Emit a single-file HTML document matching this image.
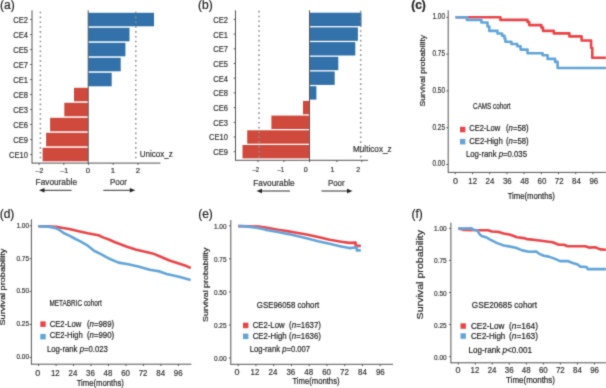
<!DOCTYPE html>
<html><head><meta charset="utf-8"><style>
html,body{margin:0;padding:0;background:#fff;width:606px;height:388px;overflow:hidden}
svg{display:block;font-family:"Liberation Sans", sans-serif}
</style></head><body>
<svg width="606" height="388" viewBox="0 0 606 388">
<defs><filter id="bl" x="0" y="0" width="606" height="388" filterUnits="userSpaceOnUse"><feConvolveMatrix order="3" kernelMatrix="0.0225 0.1050 0.0225 0.1050 0.4900 0.1050 0.0225 0.1050 0.0225" divisor="1" edgeMode="none" preserveAlpha="false"/></filter></defs>
<rect width="606" height="388" fill="#fff"/>
<g filter="url(#bl)">
<text x="0" y="8.9" font-size="12" text-anchor="start" fill="#222" stroke="#222" stroke-width="0.2">(a)</text>
<rect x="88.2" y="12.8" width="65.8" height="13.5" fill="#3171a9"/>
<text x="28" y="22.95" font-size="8.4" text-anchor="end" fill="#333333" stroke="#333333" stroke-width="0.2" textLength="14.71" lengthAdjust="spacingAndGlyphs">CE2</text>
<line x1="30.2" y1="19.55" x2="32.0" y2="19.55" stroke="#555555" stroke-width="1"/>
<rect x="88.2" y="27.8" width="41.3" height="13.5" fill="#3171a9"/>
<text x="28" y="37.949999999999996" font-size="8.4" text-anchor="end" fill="#333333" stroke="#333333" stroke-width="0.2" textLength="14.71" lengthAdjust="spacingAndGlyphs">CE4</text>
<line x1="30.2" y1="34.55" x2="32.0" y2="34.55" stroke="#555555" stroke-width="1"/>
<rect x="88.2" y="42.8" width="37.2" height="13.5" fill="#3171a9"/>
<text x="28" y="52.949999999999996" font-size="8.4" text-anchor="end" fill="#333333" stroke="#333333" stroke-width="0.2" textLength="14.71" lengthAdjust="spacingAndGlyphs">CE5</text>
<line x1="30.2" y1="49.55" x2="32.0" y2="49.55" stroke="#555555" stroke-width="1"/>
<rect x="88.2" y="57.8" width="32.5" height="13.5" fill="#3171a9"/>
<text x="28" y="67.95" font-size="8.4" text-anchor="end" fill="#333333" stroke="#333333" stroke-width="0.2" textLength="14.71" lengthAdjust="spacingAndGlyphs">CE7</text>
<line x1="30.2" y1="64.55" x2="32.0" y2="64.55" stroke="#555555" stroke-width="1"/>
<rect x="88.2" y="72.8" width="23.5" height="13.5" fill="#3171a9"/>
<text x="28" y="82.95" font-size="8.4" text-anchor="end" fill="#333333" stroke="#333333" stroke-width="0.2" textLength="14.71" lengthAdjust="spacingAndGlyphs">CE1</text>
<line x1="30.2" y1="79.55" x2="32.0" y2="79.55" stroke="#555555" stroke-width="1"/>
<rect x="74" y="87.8" width="14.200000000000003" height="13.5" fill="#cf4a3e"/>
<text x="28" y="97.95" font-size="8.4" text-anchor="end" fill="#333333" stroke="#333333" stroke-width="0.2" textLength="14.71" lengthAdjust="spacingAndGlyphs">CE8</text>
<line x1="30.2" y1="94.55" x2="32.0" y2="94.55" stroke="#555555" stroke-width="1"/>
<rect x="64.3" y="102.8" width="23.900000000000006" height="13.5" fill="#cf4a3e"/>
<text x="28" y="112.95" font-size="8.4" text-anchor="end" fill="#333333" stroke="#333333" stroke-width="0.2" textLength="14.71" lengthAdjust="spacingAndGlyphs">CE3</text>
<line x1="30.2" y1="109.55" x2="32.0" y2="109.55" stroke="#555555" stroke-width="1"/>
<rect x="50.1" y="117.8" width="38.1" height="13.5" fill="#cf4a3e"/>
<text x="28" y="127.95" font-size="8.4" text-anchor="end" fill="#333333" stroke="#333333" stroke-width="0.2" textLength="14.71" lengthAdjust="spacingAndGlyphs">CE6</text>
<line x1="30.2" y1="124.55" x2="32.0" y2="124.55" stroke="#555555" stroke-width="1"/>
<rect x="46.1" y="132.8" width="42.1" height="13.5" fill="#cf4a3e"/>
<text x="28" y="142.95000000000002" font-size="8.4" text-anchor="end" fill="#333333" stroke="#333333" stroke-width="0.2" textLength="14.71" lengthAdjust="spacingAndGlyphs">CE9</text>
<line x1="30.2" y1="139.55" x2="32.0" y2="139.55" stroke="#555555" stroke-width="1"/>
<rect x="42.6" y="147.8" width="45.6" height="13.5" fill="#cf4a3e"/>
<text x="28" y="157.95000000000002" font-size="8.4" text-anchor="end" fill="#333333" stroke="#333333" stroke-width="0.2" textLength="18.91" lengthAdjust="spacingAndGlyphs">CE10</text>
<line x1="30.2" y1="154.55" x2="32.0" y2="154.55" stroke="#555555" stroke-width="1"/>
<line x1="40.4" y1="11.75" x2="40.4" y2="161.6" stroke="#8a8a8a" stroke-width="1.5" stroke-dasharray="1.6 3.233"/>
<line x1="135.8" y1="11.75" x2="135.8" y2="161.6" stroke="#8a8a8a" stroke-width="1.5" stroke-dasharray="1.6 3.233"/>
<line x1="88.2" y1="10.3" x2="88.2" y2="163.1" stroke="#555555" stroke-width="1"/>
<line x1="32.0" y1="10.3" x2="32.0" y2="163.6" stroke="#555555" stroke-width="1.0"/>
<line x1="32.0" y1="163.1" x2="160.4" y2="163.1" stroke="#555555" stroke-width="1.0"/>
<line x1="39.06" y1="163.1" x2="39.06" y2="164.9" stroke="#555555" stroke-width="1"/>
<text x="39.4" y="173.2" font-size="7.8" text-anchor="middle" fill="#333333" stroke="#333333" stroke-width="0.2" textLength="7.7" lengthAdjust="spacingAndGlyphs">–2</text>
<line x1="63.8" y1="163.1" x2="63.8" y2="164.9" stroke="#555555" stroke-width="1"/>
<text x="64.2" y="173.2" font-size="7.8" text-anchor="middle" fill="#333333" stroke="#333333" stroke-width="0.2" textLength="7.7" lengthAdjust="spacingAndGlyphs">–1</text>
<line x1="88.4" y1="163.1" x2="88.4" y2="164.9" stroke="#555555" stroke-width="1"/>
<text x="88.0" y="173.2" font-size="7.8" text-anchor="middle" fill="#333333" stroke="#333333" stroke-width="0.2">0</text>
<line x1="113.2" y1="163.1" x2="113.2" y2="164.9" stroke="#555555" stroke-width="1"/>
<text x="113.0" y="173.2" font-size="7.8" text-anchor="middle" fill="#333333" stroke="#333333" stroke-width="0.2">1</text>
<line x1="138" y1="163.1" x2="138" y2="164.9" stroke="#555555" stroke-width="1"/>
<text x="138.0" y="173.2" font-size="7.8" text-anchor="middle" fill="#333333" stroke="#333333" stroke-width="0.2">2</text>
<text x="56.3" y="185" font-size="8.2" text-anchor="middle" fill="#333333" stroke="#333333" stroke-width="0.2" textLength="41.4" lengthAdjust="spacingAndGlyphs">Favourable</text>
<text x="118.5" y="185" font-size="8.2" text-anchor="middle" fill="#333333" stroke="#333333" stroke-width="0.2" textLength="17" lengthAdjust="spacingAndGlyphs">Poor</text>
<line x1="43" y1="190.3" x2="71.6" y2="190.3" stroke="#333" stroke-width="1"/>
<path d="M39,190.3 L44.5,188.0 L44.5,192.60000000000002 Z" fill="#222"/>
<line x1="103.3" y1="190.3" x2="131.3" y2="190.3" stroke="#333" stroke-width="1"/>
<path d="M135.3,190.3 L129.8,188.0 L129.8,192.60000000000002 Z" fill="#222"/>
<text x="139.8" y="157" font-size="8.6" text-anchor="start" fill="#333333" stroke="#333333" stroke-width="0.2" textLength="33" lengthAdjust="spacingAndGlyphs">Unicox_z</text>
<text x="198" y="8.9" font-size="12" text-anchor="start" fill="#222" stroke="#222" stroke-width="0.2">(b)</text>
<rect x="309.5" y="12.7" width="52.0" height="13.4" fill="#3171a9"/>
<text x="228" y="22.799999999999997" font-size="8.4" text-anchor="end" fill="#333333" stroke="#333333" stroke-width="0.2" textLength="14.71" lengthAdjust="spacingAndGlyphs">CE2</text>
<line x1="233.7" y1="19.4" x2="235.5" y2="19.4" stroke="#555555" stroke-width="1"/>
<rect x="309.5" y="27.4" width="48.39999999999998" height="13.4" fill="#3171a9"/>
<text x="228" y="37.5" font-size="8.4" text-anchor="end" fill="#333333" stroke="#333333" stroke-width="0.2" textLength="14.71" lengthAdjust="spacingAndGlyphs">CE1</text>
<line x1="233.7" y1="34.1" x2="235.5" y2="34.1" stroke="#555555" stroke-width="1"/>
<rect x="309.5" y="42.099999999999994" width="45.80000000000001" height="13.4" fill="#3171a9"/>
<text x="228" y="52.199999999999996" font-size="8.4" text-anchor="end" fill="#333333" stroke="#333333" stroke-width="0.2" textLength="14.71" lengthAdjust="spacingAndGlyphs">CE7</text>
<line x1="233.7" y1="48.8" x2="235.5" y2="48.8" stroke="#555555" stroke-width="1"/>
<rect x="309.5" y="56.8" width="28.80000000000001" height="13.4" fill="#3171a9"/>
<text x="228" y="66.9" font-size="8.4" text-anchor="end" fill="#333333" stroke="#333333" stroke-width="0.2" textLength="14.71" lengthAdjust="spacingAndGlyphs">CE5</text>
<line x1="233.7" y1="63.5" x2="235.5" y2="63.5" stroke="#555555" stroke-width="1"/>
<rect x="309.5" y="71.5" width="25.19999999999999" height="13.4" fill="#3171a9"/>
<text x="228" y="81.60000000000001" font-size="8.4" text-anchor="end" fill="#333333" stroke="#333333" stroke-width="0.2" textLength="14.71" lengthAdjust="spacingAndGlyphs">CE4</text>
<line x1="233.7" y1="78.2" x2="235.5" y2="78.2" stroke="#555555" stroke-width="1"/>
<rect x="309.5" y="86.2" width="6.899999999999977" height="13.4" fill="#3171a9"/>
<text x="228" y="96.30000000000001" font-size="8.4" text-anchor="end" fill="#333333" stroke="#333333" stroke-width="0.2" textLength="14.71" lengthAdjust="spacingAndGlyphs">CE8</text>
<line x1="233.7" y1="92.9" x2="235.5" y2="92.9" stroke="#555555" stroke-width="1"/>
<rect x="303" y="100.89999999999999" width="6.5" height="13.4" fill="#cf4a3e"/>
<text x="228" y="111.0" font-size="8.4" text-anchor="end" fill="#333333" stroke="#333333" stroke-width="0.2" textLength="14.71" lengthAdjust="spacingAndGlyphs">CE6</text>
<line x1="233.7" y1="107.6" x2="235.5" y2="107.6" stroke="#555555" stroke-width="1"/>
<rect x="271.4" y="115.6" width="38.10000000000002" height="13.4" fill="#cf4a3e"/>
<text x="228" y="125.7" font-size="8.4" text-anchor="end" fill="#333333" stroke="#333333" stroke-width="0.2" textLength="14.71" lengthAdjust="spacingAndGlyphs">CE3</text>
<line x1="233.7" y1="122.3" x2="235.5" y2="122.3" stroke="#555555" stroke-width="1"/>
<rect x="247.2" y="130.29999999999998" width="62.30000000000001" height="13.4" fill="#cf4a3e"/>
<text x="228" y="140.39999999999998" font-size="8.4" text-anchor="end" fill="#333333" stroke="#333333" stroke-width="0.2" textLength="18.91" lengthAdjust="spacingAndGlyphs">CE10</text>
<line x1="233.7" y1="136.99999999999997" x2="235.5" y2="136.99999999999997" stroke="#555555" stroke-width="1"/>
<rect x="242.5" y="144.99999999999997" width="67.0" height="13.4" fill="#cf4a3e"/>
<text x="228" y="155.09999999999997" font-size="8.4" text-anchor="end" fill="#333333" stroke="#333333" stroke-width="0.2" textLength="14.71" lengthAdjust="spacingAndGlyphs">CE9</text>
<line x1="233.7" y1="151.69999999999996" x2="235.5" y2="151.69999999999996" stroke="#555555" stroke-width="1"/>
<line x1="259.0" y1="10.799999999999999" x2="259.0" y2="158.8" stroke="#8a8a8a" stroke-width="1.5" stroke-dasharray="1.6 3.233"/>
<line x1="360.7" y1="10.799999999999999" x2="360.7" y2="158.8" stroke="#8a8a8a" stroke-width="1.5" stroke-dasharray="1.6 3.233"/>
<line x1="309.5" y1="10.3" x2="309.5" y2="160.3" stroke="#555555" stroke-width="1"/>
<line x1="235.5" y1="10.3" x2="235.5" y2="160.8" stroke="#555555" stroke-width="1.0"/>
<line x1="235.5" y1="160.3" x2="368" y2="160.3" stroke="#555555" stroke-width="1.0"/>
<line x1="258" y1="160.3" x2="258" y2="162.10000000000002" stroke="#555555" stroke-width="1"/>
<text x="255.7" y="172.2" font-size="7.1" text-anchor="middle" fill="#333333" stroke="#333333" stroke-width="0.2" textLength="6.6" lengthAdjust="spacingAndGlyphs">–2</text>
<line x1="284" y1="160.3" x2="284" y2="162.10000000000002" stroke="#555555" stroke-width="1"/>
<text x="280.8" y="172.2" font-size="7.1" text-anchor="middle" fill="#333333" stroke="#333333" stroke-width="0.2" textLength="6.6" lengthAdjust="spacingAndGlyphs">–1</text>
<line x1="309.5" y1="160.3" x2="309.5" y2="162.10000000000002" stroke="#555555" stroke-width="1"/>
<text x="305.8" y="172.2" font-size="7.1" text-anchor="middle" fill="#333333" stroke="#333333" stroke-width="0.2">0</text>
<line x1="336.9" y1="160.3" x2="336.9" y2="162.10000000000002" stroke="#555555" stroke-width="1"/>
<text x="332.4" y="172.2" font-size="7.1" text-anchor="middle" fill="#333333" stroke="#333333" stroke-width="0.2">1</text>
<line x1="361.8" y1="160.3" x2="361.8" y2="162.10000000000002" stroke="#555555" stroke-width="1"/>
<text x="358.2" y="172.2" font-size="7.1" text-anchor="middle" fill="#333333" stroke="#333333" stroke-width="0.2">2</text>
<text x="274" y="185.5" font-size="8.2" text-anchor="middle" fill="#333333" stroke="#333333" stroke-width="0.2" textLength="41.4" lengthAdjust="spacingAndGlyphs">Favourable</text>
<text x="336.3" y="186.2" font-size="8.2" text-anchor="middle" fill="#333333" stroke="#333333" stroke-width="0.2" textLength="16.6" lengthAdjust="spacingAndGlyphs">Poor</text>
<line x1="260.5" y1="191" x2="290" y2="191" stroke="#333" stroke-width="1"/>
<path d="M256.5,191 L262.0,188.7 L262.0,193.3 Z" fill="#222"/>
<line x1="321.5" y1="191" x2="348.5" y2="191" stroke="#333" stroke-width="1"/>
<path d="M352.5,191 L347.0,188.7 L347.0,193.3 Z" fill="#222"/>
<text x="353" y="152" font-size="8.6" text-anchor="start" fill="#333333" stroke="#333333" stroke-width="0.2" textLength="38.6" lengthAdjust="spacingAndGlyphs">Multicox_z</text>
<text x="411.2" y="8.9" font-size="12" text-anchor="start" fill="#222" stroke="#222" stroke-width="0.2" font-weight="bold">(c)</text>
<line x1="448.2" y1="10.3" x2="448.2" y2="172.9" stroke="#555555" stroke-width="1.0"/>
<line x1="448.2" y1="172.4" x2="606" y2="172.4" stroke="#555555" stroke-width="1.0"/>
<line x1="446.4" y1="17.3" x2="448.2" y2="17.3" stroke="#555555" stroke-width="1"/>
<text x="445" y="19.2" font-size="8.6" text-anchor="end" fill="#333333" stroke="#333333" stroke-width="0.2" textLength="12.6" lengthAdjust="spacingAndGlyphs">1.00</text>
<line x1="446.4" y1="54.099999999999994" x2="448.2" y2="54.099999999999994" stroke="#555555" stroke-width="1"/>
<text x="445" y="55.99999999999999" font-size="8.6" text-anchor="end" fill="#333333" stroke="#333333" stroke-width="0.2" textLength="12.6" lengthAdjust="spacingAndGlyphs">0.75</text>
<line x1="446.4" y1="90.89999999999999" x2="448.2" y2="90.89999999999999" stroke="#555555" stroke-width="1"/>
<text x="445" y="92.8" font-size="8.6" text-anchor="end" fill="#333333" stroke="#333333" stroke-width="0.2" textLength="12.6" lengthAdjust="spacingAndGlyphs">0.50</text>
<line x1="446.4" y1="127.69999999999999" x2="448.2" y2="127.69999999999999" stroke="#555555" stroke-width="1"/>
<text x="445" y="129.6" font-size="8.6" text-anchor="end" fill="#333333" stroke="#333333" stroke-width="0.2" textLength="12.6" lengthAdjust="spacingAndGlyphs">0.25</text>
<line x1="446.4" y1="164.5" x2="448.2" y2="164.5" stroke="#555555" stroke-width="1"/>
<text x="445" y="166.4" font-size="8.6" text-anchor="end" fill="#333333" stroke="#333333" stroke-width="0.2" textLength="12.6" lengthAdjust="spacingAndGlyphs">0.00</text>
<line x1="455.3" y1="172.4" x2="455.3" y2="174.20000000000002" stroke="#555555" stroke-width="1"/>
<text x="455.4" y="184.1" font-size="9" text-anchor="middle" fill="#333333" stroke="#333333" stroke-width="0.2" textLength="5.0" lengthAdjust="spacingAndGlyphs">0</text>
<line x1="472.5" y1="172.4" x2="472.5" y2="174.20000000000002" stroke="#555555" stroke-width="1"/>
<text x="472.7" y="184.1" font-size="9" text-anchor="middle" fill="#333333" stroke="#333333" stroke-width="0.2" textLength="8.8" lengthAdjust="spacingAndGlyphs">12</text>
<line x1="489.7" y1="172.4" x2="489.7" y2="174.20000000000002" stroke="#555555" stroke-width="1"/>
<text x="490.0" y="184.1" font-size="9" text-anchor="middle" fill="#333333" stroke="#333333" stroke-width="0.2" textLength="8.8" lengthAdjust="spacingAndGlyphs">24</text>
<line x1="506.9" y1="172.4" x2="506.9" y2="174.20000000000002" stroke="#555555" stroke-width="1"/>
<text x="507.29999999999995" y="184.1" font-size="9" text-anchor="middle" fill="#333333" stroke="#333333" stroke-width="0.2" textLength="8.8" lengthAdjust="spacingAndGlyphs">36</text>
<line x1="524.1" y1="172.4" x2="524.1" y2="174.20000000000002" stroke="#555555" stroke-width="1"/>
<text x="524.6" y="184.1" font-size="9" text-anchor="middle" fill="#333333" stroke="#333333" stroke-width="0.2" textLength="8.8" lengthAdjust="spacingAndGlyphs">48</text>
<line x1="541.3" y1="172.4" x2="541.3" y2="174.20000000000002" stroke="#555555" stroke-width="1"/>
<text x="541.9" y="184.1" font-size="9" text-anchor="middle" fill="#333333" stroke="#333333" stroke-width="0.2" textLength="8.8" lengthAdjust="spacingAndGlyphs">60</text>
<line x1="558.5" y1="172.4" x2="558.5" y2="174.20000000000002" stroke="#555555" stroke-width="1"/>
<text x="559.2" y="184.1" font-size="9" text-anchor="middle" fill="#333333" stroke="#333333" stroke-width="0.2" textLength="8.8" lengthAdjust="spacingAndGlyphs">72</text>
<line x1="575.7" y1="172.4" x2="575.7" y2="174.20000000000002" stroke="#555555" stroke-width="1"/>
<text x="576.5" y="184.1" font-size="9" text-anchor="middle" fill="#333333" stroke="#333333" stroke-width="0.2" textLength="8.8" lengthAdjust="spacingAndGlyphs">84</text>
<line x1="592.9" y1="172.4" x2="592.9" y2="174.20000000000002" stroke="#555555" stroke-width="1"/>
<text x="593.8" y="184.1" font-size="9" text-anchor="middle" fill="#333333" stroke="#333333" stroke-width="0.2" textLength="8.8" lengthAdjust="spacingAndGlyphs">96</text>
<text x="0" y="0" font-size="8.8" text-anchor="middle" fill="#222" stroke="#222" stroke-width="0.2" textLength="71.5" lengthAdjust="spacingAndGlyphs" transform="translate(425.0 70.7) scale(0.9 1) rotate(-90)">Survival probability</text>
<text x="531.3" y="198.5" font-size="9.6" text-anchor="middle" fill="#222" stroke="#222" stroke-width="0.2" textLength="47.3" lengthAdjust="spacingAndGlyphs">Time(months)</text>
<text x="473.1" y="108.7" font-size="9.6" text-anchor="start" fill="#222" stroke="#222" stroke-width="0.2" textLength="37.5" lengthAdjust="spacingAndGlyphs">CAMS cohort</text>
<rect x="460" y="126.8" width="5.4" height="5.5" fill="#eb4447"/>
<rect x="460" y="138.9" width="5.4" height="5.5" fill="#62a5d9"/>
<text x="469.2" y="131.3" font-size="9.3" text-anchor="start" fill="#222" stroke="#222" stroke-width="0.2" textLength="31" lengthAdjust="spacingAndGlyphs">CE2-Low</text>
<text x="469.2" y="143.9" font-size="9.3" text-anchor="start" fill="#222" stroke="#222" stroke-width="0.2" textLength="33.5" lengthAdjust="spacingAndGlyphs">CE2-High</text>
<text x="506" y="131.3" font-size="9.3" text-anchor="start" fill="#222" stroke="#222" stroke-width="0.2" textLength="22.6" lengthAdjust="spacingAndGlyphs">(<tspan font-style="italic">n</tspan>=58)</text>
<text x="506" y="143.9" font-size="9.3" text-anchor="start" fill="#222" stroke="#222" stroke-width="0.2" textLength="22.6" lengthAdjust="spacingAndGlyphs">(<tspan font-style="italic">n</tspan>=58)</text>
<text x="465.9" y="157" font-size="9.8" text-anchor="start" fill="#222" stroke="#222" stroke-width="0.2" textLength="61.1" lengthAdjust="spacingAndGlyphs">Log-rank <tspan font-style="italic">p</tspan>=0.035</text>
<path d="M455.5,17.3 H500.4 V19.9 H527.5 V22 H529.2 V25.1 H541.4 V27.6 H543 V30.9 H553.8 V33.4 H569.4 V36.4 H581.6 V40.5 H591.1 V47.7 H592.3 V57.7 H606" fill="none" stroke="#eb4447" stroke-width="2.6" stroke-linejoin="round"/>
<path d="M455.5,17.3 H466.9 V19.9 H481.4 V22.5 H487.5 V26.5 H489.3 V30.9 H497.5 V33.5 H502.1 V35.7 H504.5 V38.5 H505.4 V41.7 H511.4 V44 H517.3 V46.3 H520.6 V49.6 H527.5 V53.2 H542.6 V55.2 H547.6 V58.9 H555.1 V61.9 H557.6 V68.0 H606" fill="none" stroke="#62a5d9" stroke-width="2.6" stroke-linejoin="round"/>
<text x="-0.3" y="217.6" font-size="12" text-anchor="start" fill="#222" stroke="#222" stroke-width="0.2">(d)</text>
<line x1="31.4" y1="219.3" x2="31.4" y2="364.7" stroke="#555555" stroke-width="1.0"/>
<line x1="31.4" y1="364.2" x2="191.4" y2="364.2" stroke="#555555" stroke-width="1.0"/>
<line x1="29.599999999999998" y1="225.8" x2="31.4" y2="225.8" stroke="#555555" stroke-width="1"/>
<text x="29" y="227.60000000000002" font-size="7.8" text-anchor="end" fill="#333333" stroke="#333333" stroke-width="0.2" textLength="12.6" lengthAdjust="spacingAndGlyphs">1.00</text>
<line x1="29.599999999999998" y1="258.7" x2="31.4" y2="258.7" stroke="#555555" stroke-width="1"/>
<text x="29" y="260.5" font-size="7.8" text-anchor="end" fill="#333333" stroke="#333333" stroke-width="0.2" textLength="12.6" lengthAdjust="spacingAndGlyphs">0.75</text>
<line x1="29.599999999999998" y1="291.6" x2="31.4" y2="291.6" stroke="#555555" stroke-width="1"/>
<text x="29" y="293.40000000000003" font-size="7.8" text-anchor="end" fill="#333333" stroke="#333333" stroke-width="0.2" textLength="12.6" lengthAdjust="spacingAndGlyphs">0.50</text>
<line x1="29.599999999999998" y1="324.5" x2="31.4" y2="324.5" stroke="#555555" stroke-width="1"/>
<text x="29" y="326.3" font-size="7.8" text-anchor="end" fill="#333333" stroke="#333333" stroke-width="0.2" textLength="12.6" lengthAdjust="spacingAndGlyphs">0.25</text>
<line x1="29.599999999999998" y1="357.4" x2="31.4" y2="357.4" stroke="#555555" stroke-width="1"/>
<text x="29" y="359.2" font-size="7.8" text-anchor="end" fill="#333333" stroke="#333333" stroke-width="0.2" textLength="12.6" lengthAdjust="spacingAndGlyphs">0.00</text>
<line x1="38.6" y1="364.2" x2="38.6" y2="366.0" stroke="#555555" stroke-width="1"/>
<text x="37.8" y="376" font-size="9" text-anchor="middle" fill="#333333" stroke="#333333" stroke-width="0.2" textLength="5.0" lengthAdjust="spacingAndGlyphs">0</text>
<line x1="56.07" y1="364.2" x2="56.07" y2="366.0" stroke="#555555" stroke-width="1"/>
<text x="55.349999999999994" y="376" font-size="9" text-anchor="middle" fill="#333333" stroke="#333333" stroke-width="0.2" textLength="8.8" lengthAdjust="spacingAndGlyphs">12</text>
<line x1="73.53999999999999" y1="364.2" x2="73.53999999999999" y2="366.0" stroke="#555555" stroke-width="1"/>
<text x="72.9" y="376" font-size="9" text-anchor="middle" fill="#333333" stroke="#333333" stroke-width="0.2" textLength="8.8" lengthAdjust="spacingAndGlyphs">24</text>
<line x1="91.00999999999999" y1="364.2" x2="91.00999999999999" y2="366.0" stroke="#555555" stroke-width="1"/>
<text x="90.45" y="376" font-size="9" text-anchor="middle" fill="#333333" stroke="#333333" stroke-width="0.2" textLength="8.8" lengthAdjust="spacingAndGlyphs">36</text>
<line x1="108.47999999999999" y1="364.2" x2="108.47999999999999" y2="366.0" stroke="#555555" stroke-width="1"/>
<text x="108.0" y="376" font-size="9" text-anchor="middle" fill="#333333" stroke="#333333" stroke-width="0.2" textLength="8.8" lengthAdjust="spacingAndGlyphs">48</text>
<line x1="125.94999999999999" y1="364.2" x2="125.94999999999999" y2="366.0" stroke="#555555" stroke-width="1"/>
<text x="125.55" y="376" font-size="9" text-anchor="middle" fill="#333333" stroke="#333333" stroke-width="0.2" textLength="8.8" lengthAdjust="spacingAndGlyphs">60</text>
<line x1="143.42" y1="364.2" x2="143.42" y2="366.0" stroke="#555555" stroke-width="1"/>
<text x="143.10000000000002" y="376" font-size="9" text-anchor="middle" fill="#333333" stroke="#333333" stroke-width="0.2" textLength="8.8" lengthAdjust="spacingAndGlyphs">72</text>
<line x1="160.89" y1="364.2" x2="160.89" y2="366.0" stroke="#555555" stroke-width="1"/>
<text x="160.65" y="376" font-size="9" text-anchor="middle" fill="#333333" stroke="#333333" stroke-width="0.2" textLength="8.8" lengthAdjust="spacingAndGlyphs">84</text>
<line x1="178.35999999999999" y1="364.2" x2="178.35999999999999" y2="366.0" stroke="#555555" stroke-width="1"/>
<text x="178.2" y="376" font-size="9" text-anchor="middle" fill="#333333" stroke="#333333" stroke-width="0.2" textLength="8.8" lengthAdjust="spacingAndGlyphs">96</text>
<text x="0" y="0" font-size="8.9" text-anchor="middle" fill="#222" stroke="#222" stroke-width="0.2" textLength="76.8" lengthAdjust="spacingAndGlyphs" transform="translate(5.4 287.1) scale(0.9 1) rotate(-90)">Survival probability</text>
<text x="100.3" y="385.6" font-size="9.6" text-anchor="middle" fill="#222" stroke="#222" stroke-width="0.2" textLength="47.3" lengthAdjust="spacingAndGlyphs">Time(months)</text>
<text x="49.5" y="306" font-size="9.6" text-anchor="start" fill="#222" stroke="#222" stroke-width="0.2" textLength="52.2" lengthAdjust="spacingAndGlyphs">METABRIC cohort</text>
<rect x="40.3" y="321.4" width="5.4" height="5.5" fill="#eb4447"/>
<rect x="40.3" y="333.9" width="5.4" height="5.5" fill="#62a5d9"/>
<text x="49.7" y="326.5" font-size="9.3" text-anchor="start" fill="#222" stroke="#222" stroke-width="0.2" textLength="31.6" lengthAdjust="spacingAndGlyphs">CE2-Low</text>
<text x="49.7" y="338.2" font-size="9.3" text-anchor="start" fill="#222" stroke="#222" stroke-width="0.2" textLength="33" lengthAdjust="spacingAndGlyphs">CE2-High</text>
<text x="86.9" y="326.5" font-size="9.3" text-anchor="start" fill="#222" stroke="#222" stroke-width="0.2" textLength="27.3" lengthAdjust="spacingAndGlyphs">(<tspan font-style="italic">n</tspan>=989)</text>
<text x="86.9" y="338.2" font-size="9.3" text-anchor="start" fill="#222" stroke="#222" stroke-width="0.2" textLength="27.3" lengthAdjust="spacingAndGlyphs">(<tspan font-style="italic">n</tspan>=990)</text>
<text x="46.9" y="351.8" font-size="9.8" text-anchor="start" fill="#222" stroke="#222" stroke-width="0.2" textLength="61" lengthAdjust="spacingAndGlyphs">Log-rank <tspan font-style="italic">p</tspan>=0.023</text>
<path d="M38.3,226.3 L48.2,226.3 L56.1,226.9 L61.4,227.7 L69.3,229.0 L78.6,231.2 L87.8,233.3 L98.4,235.3 L103.6,237.6 L108.9,239.5 L115.0,242.2 L118.5,243.5 L127.0,246.7 L135.5,249.4 L144.0,251.5 L152.5,253.4 L159.6,256.2 L169.5,260.5 L178.0,263.3 L186.5,266.1 L190.7,268.0" fill="none" stroke="#eb4447" stroke-width="2.6" stroke-linejoin="round"/>
<path d="M38.3,226.3 L48.2,226.6 L54.8,227.9 L59.4,229.9 L64.0,233.2 L69.3,235.6 L74.6,238.5 L79.9,241.1 L87.8,245.7 L94.4,251.0 L101.0,254.1 L106.3,257.2 L110.0,259.0 L118.5,262.6 L127.0,264.0 L138.3,266.5 L149.7,269.7 L159.6,271.4 L166.7,273.9 L178.0,276.5 L190.7,279.9" fill="none" stroke="#62a5d9" stroke-width="2.6" stroke-linejoin="round"/>
<text x="198.2" y="217.6" font-size="12" text-anchor="start" fill="#222" stroke="#222" stroke-width="0.2">(e)</text>
<line x1="230.8" y1="220" x2="230.8" y2="364.8" stroke="#555555" stroke-width="1.0"/>
<line x1="230.8" y1="364.3" x2="393" y2="364.3" stroke="#555555" stroke-width="1.0"/>
<line x1="229.0" y1="225.8" x2="230.8" y2="225.8" stroke="#555555" stroke-width="1"/>
<text x="226.5" y="228.70000000000002" font-size="7.8" text-anchor="end" fill="#333333" stroke="#333333" stroke-width="0.2" textLength="12.6" lengthAdjust="spacingAndGlyphs">1.00</text>
<line x1="229.0" y1="258.85" x2="230.8" y2="258.85" stroke="#555555" stroke-width="1"/>
<text x="226.5" y="261.75" font-size="7.8" text-anchor="end" fill="#333333" stroke="#333333" stroke-width="0.2" textLength="12.6" lengthAdjust="spacingAndGlyphs">0.75</text>
<line x1="229.0" y1="291.9" x2="230.8" y2="291.9" stroke="#555555" stroke-width="1"/>
<text x="226.5" y="294.79999999999995" font-size="7.8" text-anchor="end" fill="#333333" stroke="#333333" stroke-width="0.2" textLength="12.6" lengthAdjust="spacingAndGlyphs">0.50</text>
<line x1="229.0" y1="324.95" x2="230.8" y2="324.95" stroke="#555555" stroke-width="1"/>
<text x="226.5" y="327.84999999999997" font-size="7.8" text-anchor="end" fill="#333333" stroke="#333333" stroke-width="0.2" textLength="12.6" lengthAdjust="spacingAndGlyphs">0.25</text>
<line x1="229.0" y1="358.0" x2="230.8" y2="358.0" stroke="#555555" stroke-width="1"/>
<text x="226.5" y="360.9" font-size="7.8" text-anchor="end" fill="#333333" stroke="#333333" stroke-width="0.2" textLength="12.6" lengthAdjust="spacingAndGlyphs">0.00</text>
<line x1="238.2" y1="364.3" x2="238.2" y2="366.1" stroke="#555555" stroke-width="1"/>
<text x="237.1" y="375" font-size="9" text-anchor="middle" fill="#333333" stroke="#333333" stroke-width="0.2" textLength="5.0" lengthAdjust="spacingAndGlyphs">0</text>
<line x1="255.95" y1="364.3" x2="255.95" y2="366.1" stroke="#555555" stroke-width="1"/>
<text x="255.0" y="375" font-size="9" text-anchor="middle" fill="#333333" stroke="#333333" stroke-width="0.2" textLength="8.8" lengthAdjust="spacingAndGlyphs">12</text>
<line x1="273.7" y1="364.3" x2="273.7" y2="366.1" stroke="#555555" stroke-width="1"/>
<text x="272.9" y="375" font-size="9" text-anchor="middle" fill="#333333" stroke="#333333" stroke-width="0.2" textLength="8.8" lengthAdjust="spacingAndGlyphs">24</text>
<line x1="291.45" y1="364.3" x2="291.45" y2="366.1" stroke="#555555" stroke-width="1"/>
<text x="290.8" y="375" font-size="9" text-anchor="middle" fill="#333333" stroke="#333333" stroke-width="0.2" textLength="8.8" lengthAdjust="spacingAndGlyphs">36</text>
<line x1="309.2" y1="364.3" x2="309.2" y2="366.1" stroke="#555555" stroke-width="1"/>
<text x="308.7" y="375" font-size="9" text-anchor="middle" fill="#333333" stroke="#333333" stroke-width="0.2" textLength="8.8" lengthAdjust="spacingAndGlyphs">48</text>
<line x1="326.95" y1="364.3" x2="326.95" y2="366.1" stroke="#555555" stroke-width="1"/>
<text x="326.6" y="375" font-size="9" text-anchor="middle" fill="#333333" stroke="#333333" stroke-width="0.2" textLength="8.8" lengthAdjust="spacingAndGlyphs">60</text>
<line x1="344.7" y1="364.3" x2="344.7" y2="366.1" stroke="#555555" stroke-width="1"/>
<text x="344.5" y="375" font-size="9" text-anchor="middle" fill="#333333" stroke="#333333" stroke-width="0.2" textLength="8.8" lengthAdjust="spacingAndGlyphs">72</text>
<line x1="362.45" y1="364.3" x2="362.45" y2="366.1" stroke="#555555" stroke-width="1"/>
<text x="362.4" y="375" font-size="9" text-anchor="middle" fill="#333333" stroke="#333333" stroke-width="0.2" textLength="8.8" lengthAdjust="spacingAndGlyphs">84</text>
<line x1="380.2" y1="364.3" x2="380.2" y2="366.1" stroke="#555555" stroke-width="1"/>
<text x="380.29999999999995" y="375" font-size="9" text-anchor="middle" fill="#333333" stroke="#333333" stroke-width="0.2" textLength="8.8" lengthAdjust="spacingAndGlyphs">96</text>
<text x="0" y="0" font-size="8.9" text-anchor="middle" fill="#222" stroke="#222" stroke-width="0.2" textLength="74.4" lengthAdjust="spacingAndGlyphs" transform="translate(207.5 284.7) scale(0.9 1) rotate(-90)">Survival probability</text>
<text x="316" y="383.6" font-size="9.6" text-anchor="middle" fill="#222" stroke="#222" stroke-width="0.2" textLength="47.1" lengthAdjust="spacingAndGlyphs">Time(months)</text>
<text x="256.8" y="308" font-size="9.6" text-anchor="start" fill="#222" stroke="#222" stroke-width="0.2" textLength="62.5" lengthAdjust="spacingAndGlyphs">GSE96058 cohort</text>
<rect x="243" y="322.7" width="5.4" height="5.5" fill="#eb4447"/>
<rect x="243" y="333.6" width="5.4" height="5.5" fill="#62a5d9"/>
<text x="252.7" y="328.2" font-size="9.3" text-anchor="start" fill="#222" stroke="#222" stroke-width="0.2" textLength="31.9" lengthAdjust="spacingAndGlyphs">CE2-Low</text>
<text x="252.7" y="338.8" font-size="9.3" text-anchor="start" fill="#222" stroke="#222" stroke-width="0.2" textLength="33.9" lengthAdjust="spacingAndGlyphs">CE2-High</text>
<text x="289.1" y="328.2" font-size="9.3" text-anchor="start" fill="#222" stroke="#222" stroke-width="0.2" textLength="31.9" lengthAdjust="spacingAndGlyphs">(<tspan font-style="italic">n</tspan>=1637)</text>
<text x="289.1" y="338.8" font-size="9.3" text-anchor="start" fill="#222" stroke="#222" stroke-width="0.2" textLength="31.9" lengthAdjust="spacingAndGlyphs">(<tspan font-style="italic">n</tspan>=1636)</text>
<text x="249.7" y="352" font-size="9.8" text-anchor="start" fill="#222" stroke="#222" stroke-width="0.2" textLength="60.4" lengthAdjust="spacingAndGlyphs">Log-rank <tspan font-style="italic">p</tspan>=0.007</text>
<path d="M238.2,226.1 L250.0,226.3 L258.6,226.6 L267.2,227.9 L277.9,229.8 L288.6,231.4 L295.0,232.5 L306.5,234.5 L318.1,237.1 L329.6,239.8 L341.2,241.7 L349.3,242.9 L355.6,242.6 V245.9 H360.8" fill="none" stroke="#eb4447" stroke-width="2.6" stroke-linejoin="round"/>
<path d="M238.2,226.0 L245.7,226.4 L256.5,227.7 L265.0,229.6 L277.9,232.0 L288.6,234.1 L295.0,235.6 L306.5,238.3 L318.1,241.2 L329.6,243.7 L341.2,246.4 L349.3,248.1 L355.6,247.5 L356.8,247.5 V250.4 H360.8" fill="none" stroke="#62a5d9" stroke-width="2.6" stroke-linejoin="round"/>
<text x="411.4" y="217.6" font-size="12" text-anchor="start" fill="#222" stroke="#222" stroke-width="0.2">(f)</text>
<line x1="450.9" y1="222.7" x2="450.9" y2="363.3" stroke="#555555" stroke-width="1.0"/>
<line x1="450.9" y1="362.8" x2="606" y2="362.8" stroke="#555555" stroke-width="1.0"/>
<line x1="449.09999999999997" y1="228.4" x2="450.9" y2="228.4" stroke="#555555" stroke-width="1"/>
<text x="446.7" y="231.4" font-size="7.8" text-anchor="end" fill="#333333" stroke="#333333" stroke-width="0.2" textLength="12.6" lengthAdjust="spacingAndGlyphs">1.00</text>
<line x1="449.09999999999997" y1="260.45" x2="450.9" y2="260.45" stroke="#555555" stroke-width="1"/>
<text x="446.7" y="263.45" font-size="7.8" text-anchor="end" fill="#333333" stroke="#333333" stroke-width="0.2" textLength="12.6" lengthAdjust="spacingAndGlyphs">0.75</text>
<line x1="449.09999999999997" y1="292.5" x2="450.9" y2="292.5" stroke="#555555" stroke-width="1"/>
<text x="446.7" y="295.5" font-size="7.8" text-anchor="end" fill="#333333" stroke="#333333" stroke-width="0.2" textLength="12.6" lengthAdjust="spacingAndGlyphs">0.50</text>
<line x1="449.09999999999997" y1="324.55" x2="450.9" y2="324.55" stroke="#555555" stroke-width="1"/>
<text x="446.7" y="327.55" font-size="7.8" text-anchor="end" fill="#333333" stroke="#333333" stroke-width="0.2" textLength="12.6" lengthAdjust="spacingAndGlyphs">0.25</text>
<line x1="449.09999999999997" y1="356.6" x2="450.9" y2="356.6" stroke="#555555" stroke-width="1"/>
<text x="446.7" y="359.6" font-size="7.8" text-anchor="end" fill="#333333" stroke="#333333" stroke-width="0.2" textLength="12.6" lengthAdjust="spacingAndGlyphs">0.00</text>
<line x1="458.2" y1="362.8" x2="458.2" y2="364.6" stroke="#555555" stroke-width="1"/>
<text x="457.9" y="372.8" font-size="9" text-anchor="middle" fill="#333333" stroke="#333333" stroke-width="0.2" textLength="5.0" lengthAdjust="spacingAndGlyphs">0</text>
<line x1="475.23" y1="362.8" x2="475.23" y2="364.6" stroke="#555555" stroke-width="1"/>
<text x="474.97999999999996" y="372.8" font-size="9" text-anchor="middle" fill="#333333" stroke="#333333" stroke-width="0.2" textLength="8.8" lengthAdjust="spacingAndGlyphs">12</text>
<line x1="492.26" y1="362.8" x2="492.26" y2="364.6" stroke="#555555" stroke-width="1"/>
<text x="492.05999999999995" y="372.8" font-size="9" text-anchor="middle" fill="#333333" stroke="#333333" stroke-width="0.2" textLength="8.8" lengthAdjust="spacingAndGlyphs">24</text>
<line x1="509.28999999999996" y1="362.8" x2="509.28999999999996" y2="364.6" stroke="#555555" stroke-width="1"/>
<text x="509.14" y="372.8" font-size="9" text-anchor="middle" fill="#333333" stroke="#333333" stroke-width="0.2" textLength="8.8" lengthAdjust="spacingAndGlyphs">36</text>
<line x1="526.3199999999999" y1="362.8" x2="526.3199999999999" y2="364.6" stroke="#555555" stroke-width="1"/>
<text x="526.22" y="372.8" font-size="9" text-anchor="middle" fill="#333333" stroke="#333333" stroke-width="0.2" textLength="8.8" lengthAdjust="spacingAndGlyphs">48</text>
<line x1="543.35" y1="362.8" x2="543.35" y2="364.6" stroke="#555555" stroke-width="1"/>
<text x="543.3" y="372.8" font-size="9" text-anchor="middle" fill="#333333" stroke="#333333" stroke-width="0.2" textLength="8.8" lengthAdjust="spacingAndGlyphs">60</text>
<line x1="560.38" y1="362.8" x2="560.38" y2="364.6" stroke="#555555" stroke-width="1"/>
<text x="560.38" y="372.8" font-size="9" text-anchor="middle" fill="#333333" stroke="#333333" stroke-width="0.2" textLength="8.8" lengthAdjust="spacingAndGlyphs">72</text>
<line x1="577.41" y1="362.8" x2="577.41" y2="364.6" stroke="#555555" stroke-width="1"/>
<text x="577.4599999999999" y="372.8" font-size="9" text-anchor="middle" fill="#333333" stroke="#333333" stroke-width="0.2" textLength="8.8" lengthAdjust="spacingAndGlyphs">84</text>
<line x1="594.44" y1="362.8" x2="594.44" y2="364.6" stroke="#555555" stroke-width="1"/>
<text x="594.54" y="372.8" font-size="9" text-anchor="middle" fill="#333333" stroke="#333333" stroke-width="0.2" textLength="8.8" lengthAdjust="spacingAndGlyphs">96</text>
<text x="0" y="0" font-size="10.4" text-anchor="middle" fill="#222" stroke="#222" stroke-width="0.2" textLength="89.5" lengthAdjust="spacingAndGlyphs" transform="translate(423.1 274.7) scale(0.86 1) rotate(-90)">Survival probability</text>
<text x="530.5" y="382.8" font-size="9.6" text-anchor="middle" fill="#222" stroke="#222" stroke-width="0.2" textLength="48.9" lengthAdjust="spacingAndGlyphs">Time(months)</text>
<text x="471.8" y="308.4" font-size="9.6" text-anchor="start" fill="#222" stroke="#222" stroke-width="0.2" textLength="65.3" lengthAdjust="spacingAndGlyphs">GSE20685 cohort</text>
<rect x="460.5" y="323.3" width="5.4" height="5.5" fill="#eb4447"/>
<rect x="460.5" y="333.3" width="5.4" height="5.5" fill="#62a5d9"/>
<text x="470.9" y="328.5" font-size="9.3" text-anchor="start" fill="#222" stroke="#222" stroke-width="0.2" textLength="33.5" lengthAdjust="spacingAndGlyphs">CE2-Low</text>
<text x="470.9" y="339" font-size="9.3" text-anchor="start" fill="#222" stroke="#222" stroke-width="0.2" textLength="34.4" lengthAdjust="spacingAndGlyphs">CE2-High</text>
<text x="509" y="328.5" font-size="9.3" text-anchor="start" fill="#222" stroke="#222" stroke-width="0.2" textLength="29" lengthAdjust="spacingAndGlyphs">(<tspan font-style="italic">n</tspan>=164)</text>
<text x="509" y="339" font-size="9.3" text-anchor="start" fill="#222" stroke="#222" stroke-width="0.2" textLength="29" lengthAdjust="spacingAndGlyphs">(<tspan font-style="italic">n</tspan>=163)</text>
<text x="468.4" y="352.8" font-size="9.8" text-anchor="start" fill="#222" stroke="#222" stroke-width="0.2" textLength="63.7" lengthAdjust="spacingAndGlyphs">Log-rank <tspan font-style="italic">p</tspan>&lt;0.001</text>
<path d="M458.3,228.6 L464.2,229.9 L478.8,230.2 L488.0,230.2 L492.0,231.5 L498.6,231.9 L503.8,233.5 L510.4,234.8 L517.0,237.2 L523.6,238.1 L527.6,239.2 L530.0,239.4 L537.5,240.3 L545.0,241.3 L552.6,242.3 L558.9,244.8 L563.9,244.8 L567.6,246.3 L585.2,246.3 L589.0,247.6 L595.2,247.3 L600.3,249.4 L606.0,249.8" fill="none" stroke="#eb4447" stroke-width="2.6" stroke-linejoin="round"/>
<path d="M458.3,228.6 L471.5,228.3 L473.5,229.7 L477.4,230.6 L479.4,233.9 L481.4,235.9 L486.7,237.6 L490.6,239.8 L497.2,243.1 L503.8,245.5 L509.1,246.4 L515.7,247.7 L522.3,250.4 L528.9,251.7 L536.3,251.6 L538.8,253.6 L543.8,255.7 L548.8,256.6 L555.1,258.9 L560.1,261.1 L567.6,261.1 L572.7,262.9 L577.7,264.5 L580.2,266.6 L586.5,267.0 L587.7,269.1 L606.0,269.1" fill="none" stroke="#62a5d9" stroke-width="2.6" stroke-linejoin="round"/>
</g>
</svg></body></html>
